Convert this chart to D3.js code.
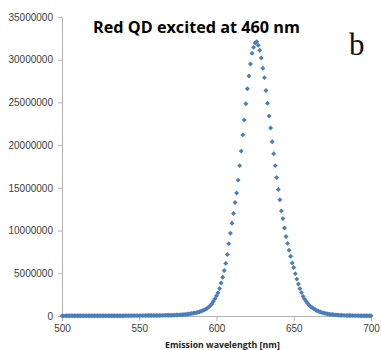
<!DOCTYPE html>
<html>
<head>
<meta charset="utf-8">
<script src="https://cdn.jsdelivr.net/npm/d3@7"></script>
<style>
  html, body { margin: 0; padding: 0; background: #fff; }
  svg { display: block; }
</style>
</head>
<body>
<div id="chart"></div>
<script>
// emission wavelength (nm)
const wavelengths = [
  500, 501, 502, 503, 504, 505, 506, 507, 508, 509, 510, 511, 512, 513, 514, 515, 516, 517, 518, 519,
  520, 521, 522, 523, 524, 525, 526, 527, 528, 529, 530, 531, 532, 533, 534, 535, 536, 537, 538, 539,
  540, 541, 542, 543, 544, 545, 546, 547, 548, 549, 550, 551, 552, 553, 554, 555, 556, 557, 558, 559,
  560, 561, 562, 563, 564, 565, 566, 567, 568, 569, 570, 571, 572, 573, 574, 575, 576, 577, 578, 579,
  580, 581, 582, 583, 584, 585, 586, 587, 588, 589, 590, 591, 592, 593, 594, 595, 596, 597, 598, 599,
  600, 601, 602, 603, 604, 605, 606, 607, 608, 609, 610, 611, 612, 613, 614, 615, 616, 617, 618, 619,
  620, 621, 622, 623, 624, 625, 626, 627, 628, 629, 630, 631, 632, 633, 634, 635, 636, 637, 638, 639,
  640, 641, 642, 643, 644, 645, 646, 647, 648, 649, 650, 651, 652, 653, 654, 655, 656, 657, 658, 659,
  660, 661, 662, 663, 664, 665, 666, 667, 668, 669, 670, 671, 672, 673, 674, 675, 676, 677, 678, 679,
  680, 681, 682, 683, 684, 685, 686, 687, 688, 689, 690, 691, 692, 693, 694, 695, 696, 697, 698, 699, 700
];

// emission intensity (counts)
const intensity = [
  20000, 20000, 20000, 21000, 21000, 21000, 21000, 22000, 22000, 22000, 22000, 23000, 23000, 23000, 24000, 24000, 24000, 25000, 25000, 25000,
  26000, 26000, 27000, 27000, 27000, 28000, 28000, 29000, 29000, 30000, 30000, 31000, 31000, 32000, 33000, 33000, 34000, 35000, 35000, 36000,
  37000, 38000, 38000, 39000, 40000, 41000, 42000, 43000, 44000, 45000, 46000, 47000, 48000, 49000, 50000, 52000, 53000, 54000, 56000, 57000,
  59000, 61000, 63000, 65000, 68000, 71000, 74000, 78000, 82000, 86000, 91000, 96000, 102000, 108000, 115000, 122000, 130000, 140000, 152000, 168000,
  190000, 210000, 240000, 260000, 290000, 320000, 360000, 400000, 440000, 490000, 550000, 630000, 710000, 800000, 910000, 1050000, 1210000, 1430000, 1720000, 2030000,
  2370000, 2730000, 3220000, 3870000, 4530000, 5320000, 6160000, 7200000, 8470000, 9680000, 10850000, 12000000, 13280000, 14400000, 15900000, 17600000, 19300000, 21200000, 22950000, 24850000,
  26600000, 28100000, 29500000, 30750000, 31450000, 31950000, 32100000, 31700000, 31100000, 30200000, 29000000, 27900000, 26400000, 24900000, 23400000, 22000000, 20400000, 19000000, 17600000, 16200000,
  14800000, 13600000, 12300000, 11400000, 10300000, 9300000, 8500000, 7700000, 7000000, 6200000, 5670000, 4960000, 4320000, 3750000, 3210000, 2740000, 2300000, 1980000, 1720000, 1480000,
  1270000, 1100000, 960000, 840000, 740000, 630000, 550000, 490000, 420000, 360000, 320000, 280000, 250000, 210000, 190000, 170000, 150000, 130000, 110000, 100000,
  90000, 80000, 75000, 70000, 65000, 60000, 55000, 50000, 47000, 44000, 42000, 40000, 38000, 36000, 34000, 32000, 30000, 29000, 28000, 27000, 26000
];

const xTicks = [500, 550, 600, 650, 700];
const yTicks = [0, 5000000, 10000000, 15000000, 20000000, 25000000, 30000000, 35000000];

const title = 'Red QD excited at 460 nm';
const panelLabel = 'b';
const xLabel = 'Emission wavelength [nm]';

const W = 381, H = 350;
const margin = { top: 17, right: 10, bottom: 34, left: 62 };
const width = 371 - margin.left;
const height = 316 - margin.top;

const svg = d3.select('#chart')
  .append('svg')
  .attr('width', W)
  .attr('height', H);

const g = svg.append('g')
  .attr('transform', 'translate(' + margin.left + ',' + margin.top + ')');

const xScale = d3.scaleLinear().domain([500, 700]).range([0, width]);
const yScale = d3.scaleLinear().domain([0, 35000000]).range([height, 0]);

const axisColor = '#b3b3b3';
const labelColor = '#404040';

// y axis
const yAxis = g.append('g')
  .call(d3.axisLeft(yScale).tickValues(yTicks).tickFormat(d3.format('d')).tickSize(4).tickSizeOuter(0));
yAxis.select('.domain').attr('stroke', axisColor);
yAxis.selectAll('.tick line').attr('stroke', axisColor);
yAxis.selectAll('.tick text')
  .attr('x', -9)
  .attr('fill', labelColor)
  .style('font', '10px "Liberation Sans", Arial, sans-serif');

// x axis
const xAxis = g.append('g')
  .attr('transform', 'translate(0,' + height + ')')
  .call(d3.axisBottom(xScale).tickValues(xTicks).tickFormat(d3.format('d')).tickSize(5).tickSizeOuter(0));
xAxis.select('.domain').attr('stroke', axisColor);
xAxis.selectAll('.tick line').attr('stroke', axisColor);
xAxis.selectAll('.tick text')
  .attr('y', 9)
  .attr('fill', labelColor)
  .style('font', '10px "Liberation Sans", Arial, sans-serif');

// data points (Excel-style diamonds)
const diamond = d3.symbol().type(d3.symbolSquare).size(12)();
g.append('g')
  .selectAll('path')
  .data(wavelengths.map((w, i) => ({ w: w, v: intensity[i] })))
  .enter()
  .append('path')
  .attr('d', diamond)
  .attr('fill', '#4a7ebb')
  .attr('transform', d => 'translate(' + xScale(d.w) + ',' + yScale(d.v) + ') rotate(45)');

// fit a text element to a target width by adjusting font size
function fitWidth(sel, target) {
  const len = sel.node().getComputedTextLength();
  const fs = parseFloat(sel.style('font-size'));
  sel.style('font-size', (fs * target / len) + 'px');
}

const t = svg.append('text')
  .attr('x', 93)
  .attr('y', 33)
  .attr('fill', '#000')
  .style('font-family', '"Open Sans", "Liberation Sans", sans-serif')
  .style('font-weight', 'bold')
  .style('font-size', '17px')
  .text(title);
fitWidth(t, 207);

svg.append('text')
  .attr('x', 349)
  .attr('y', 55)
  .attr('fill', '#111')
  .style('font-family', '"Liberation Serif", "DejaVu Serif", serif')
  .style('font-size', '31px')
  .text(panelLabel);

const xl = svg.append('text')
  .attr('x', 165)
  .attr('y', 348)
  .attr('fill', '#222')
  .style('font-family', '"Open Sans", "Liberation Sans", sans-serif')
  .style('font-weight', 'bold')
  .style('font-size', '10px')
  .text(xLabel);
fitWidth(xl, 115);
</script>
</body>
</html>
